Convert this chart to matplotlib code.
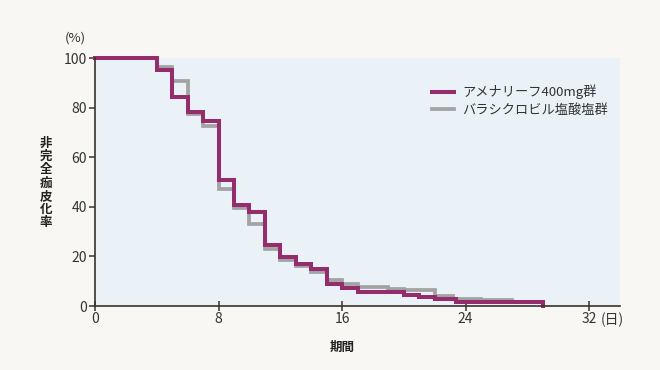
import matplotlib
matplotlib.use("Agg")
import matplotlib.pyplot as plt

plt.rcParams['font.family'] = ['Noto Sans CJK JP', 'DejaVu Sans']

# Data (step curves, value holds from given day until next)
amen_days = [0, 4, 5, 6, 7, 8, 9, 10, 11, 12, 13, 14, 15, 16, 17, 20, 21, 22, 23.4, 29, 29]
amen_vals = [100, 95.3, 84.4, 78.3, 74.6, 51.0, 40.7, 38.0, 24.5, 19.7, 16.9, 15.0, 9.0, 7.3, 5.6, 4.6, 3.6, 2.8, 1.7, 1.7, 0]

vala_days = [0, 4, 5, 6, 7, 8, 9, 10, 11, 12, 13, 14, 15, 16, 17, 19, 20, 22, 23.2, 25, 27, 28.5]
vala_vals = [100, 96.3, 90.7, 77.4, 72.5, 47.3, 39.4, 33.0, 22.9, 18.4, 16.3, 13.8, 10.4, 8.9, 7.5, 7.0, 6.3, 4.2, 3.0, 2.6, 1.8, 1.8]

series_names = ['アメナリーフ400mg群', 'バラシクロビル塩酸塩群']
x_ticks = [0, 8, 16, 24, 32]
x_ticklabels = ['0', '8', '16', '24', '32']
y_ticks = [0, 20, 40, 60, 80, 100]

purple = '#952d6c'
gray = '#a3a3a3'
text_c = '#333333'

fig = plt.figure(figsize=(6.6, 3.7), dpi=100)
fig.patch.set_facecolor('#f8f7f3')
ax = fig.add_axes([95/660, 1-306/370, (620-95)/660, (306-58)/370])
ax.set_facecolor('#eaf2f8')

ax.step(vala_days, vala_vals, where='post', color=gray, lw=2.7,
        label=series_names[1], clip_on=False, zorder=3, solid_joinstyle='miter')
ax.step(amen_days, amen_vals, where='post', color=purple, lw=2.9,
        label=series_names[0], clip_on=False, zorder=4, solid_joinstyle='miter')

ax.set_xlim(0, 34)
ax.set_ylim(0, 100)
ax.set_xticks(x_ticks)
ax.set_xticklabels(x_ticklabels)
ax.set_yticks(y_ticks)

for s in ['top', 'right']:
    ax.spines[s].set_visible(False)
for s in ['left', 'bottom']:
    ax.spines[s].set_color('#3a3330')
    ax.spines[s].set_linewidth(1.2)
    ax.spines[s].set_zorder(5)

ax.tick_params(axis='y', direction='out', length=4, width=1.1, color='#3a3330',
               labelsize=10, labelcolor=text_c, pad=2)
ax.tick_params(axis='x', direction='inout', length=7, width=1.1, color='#3a3330',
               labelsize=10, labelcolor=text_c, pad=1)

# unit labels
ax.text(32.75, -2.5, '(日)', transform=ax.transData, ha='left', va='top',
        fontsize=10, color=text_c)
fig.text(75/660, 1-38/370, '(%)', ha='center', va='center', fontsize=9.5, color=text_c)

# y label stacked vertically
ylabel = '非完全痂皮化率'
fig.text(46/660, 1-183/370, '\n'.join(ylabel), ha='center', va='center',
         fontsize=9, fontweight='bold', color='#222222', linespacing=1.02)
fig.text(342/660, 1-347/370, '期間', ha='center', va='center',
         fontsize=9, fontweight='bold', color='#222222')

handles, labels = ax.get_legend_handles_labels()
leg = ax.legend(handles[::-1], labels[::-1], loc='upper right',
                bbox_to_anchor=(1.0, 0.94), frameon=False, fontsize=9.5,
                handlelength=1.7, handletextpad=0.6, labelspacing=0.35,
                labelcolor=text_c)

fig.savefig('out.png', dpi=100, facecolor=fig.get_facecolor())
